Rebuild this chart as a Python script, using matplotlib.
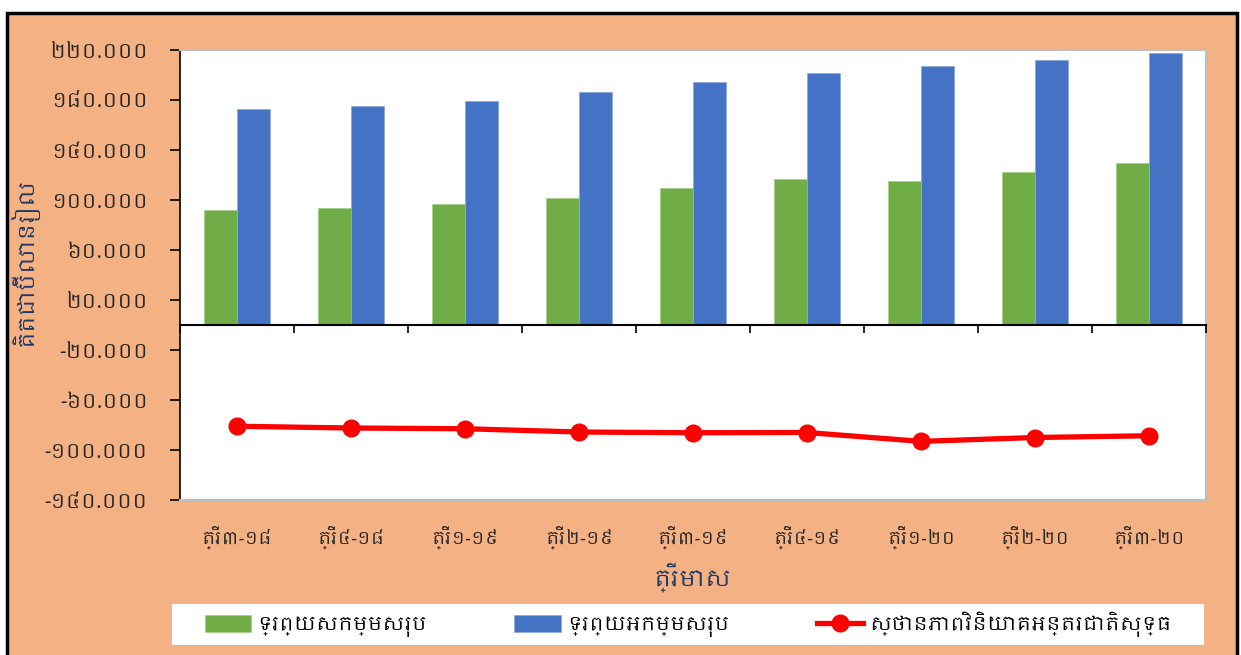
import numpy as np
import matplotlib.pyplot as plt
from matplotlib import font_manager
from matplotlib.ft2font import FT2Font

# look for a font that has Khmer glyphs, prefer one named Khmer
khmer_fonts = []
for f in font_manager.fontManager.ttflist:
    try:
        if 0x1780 in FT2Font(f.fname).get_charmap():
            khmer_fonts.append(f.name)
    except Exception:
        pass
khmer_fonts.sort(key=lambda n: 'Khmer' not in n)
fams = khmer_fonts[:1] + ['DejaVu Sans']
plt.rcParams['font.family'] = fams

quarters = ['ត្រី៣-១៨', 'ត្រី៤-១៨', 'ត្រី១-១៩', 'ត្រី២-១៩', 'ត្រី៣-១៩',
            'ត្រី៤-១៩', 'ត្រី១-២០', 'ត្រី២-២០', 'ត្រី៣-២០']
assets = [92.3, 93.4, 96.9, 102.0, 109.7, 116.7, 115.0, 122.6, 129.8]
liabilities = [172.6, 175.0, 179.0, 186.3, 194.6, 201.5, 207.0, 212.0, 217.6]
niip = [-81.0, -82.4, -83.0, -85.6, -86.2, -86.0, -93.1, -90.0, -88.6]
yticks = [220, 180, 140, 100, 60, 20, -20, -60, -100, -140]
ytick_labels = ['២២០.០០០', '១៨០.០០០', '១៤០.០០០', '១០០.០០០', '៦០.០០០', '២០.០០០',
                '-២០.០០០', '-៦០.០០០', '-១០០.០០០', '-១៤០.០០០']
names = ['ទ្រព្យសកម្មសរុប', 'ទ្រព្យអកម្មសរុប', 'ស្ថានភាពវិនិយោគអន្តរជាតិសុទ្ធ']

orange = '#F4B183'
navy = '#1F3864'

fig = plt.figure(figsize=(12.41, 6.55), dpi=100)
fig.patch.set_facecolor('white')
# orange panel with black frame
fig.patches.append(plt.Rectangle((7 / 1241, -0.01), 1230 / 1241, 1 - 13 / 655 + 0.01,
                                 transform=fig.transFigure, facecolor=orange,
                                 edgecolor='black', linewidth=2.5, zorder=-5))
# white strip behind the legend
fig.patches.append(plt.Rectangle((172 / 1241, 1 - 645 / 655), 1032 / 1241, 41 / 655,
                                 transform=fig.transFigure, facecolor='white',
                                 edgecolor='none', zorder=-4))

ax = fig.add_axes([180 / 1241, 1 - 500 / 655, 1026 / 1241, 450 / 655])
ax.set_facecolor('white')

x = np.arange(len(quarters))
w = 0.29
b1 = ax.bar(x - w / 2, assets, w, color='#70AD47', edgecolor='#A9D18E', linewidth=0.6,
            zorder=2)
b2 = ax.bar(x + w / 2, liabilities, w, color='#4472C4', edgecolor='#8FAADC', linewidth=0.6,
            zorder=2)
ln, = ax.plot(x, niip, color='#FF0000', linewidth=3.8, marker='o', markersize=12,
              zorder=4)

ymin, ymax = -140, 220
ax.set_ylim(ymin, ymax)
ax.set_xlim(-0.5, len(quarters) - 0.5)
ax.set_yticks(yticks)
ax.set_yticklabels(ytick_labels, fontsize=14.5, color='#262626')
ax.set_xticks(x)
ax.set_xticklabels(quarters, fontsize=13, color='#262626')
ax.tick_params(axis='x', length=0, pad=18)
ax.tick_params(axis='y', direction='out', length=7, width=1.2, pad=16)

for s in ['top', 'right', 'bottom']:
    ax.spines[s].set_color('#BFBFBF')
    ax.spines[s].set_linewidth(1.5)
ax.spines['left'].set_color('black')
ax.spines['left'].set_linewidth(1.2)

# category axis drawn through zero with boundary ticks
zero = (0 - ymin) / (ymax - ymin)
sec = ax.secondary_xaxis(zero)
sec.set_xticks(np.arange(len(quarters) + 1) - 0.5)
sec.set_xticklabels([])
sec.tick_params(direction='out', length=6, width=1.2, color='black')
sec.spines['bottom'].set_color('black')
sec.spines['bottom'].set_linewidth(1.5)
sec.set_zorder(3)

ax.set_ylabel('គិតជាប៊ីលានរៀល', fontsize=16, color=navy)
ax.yaxis.set_label_coords(-0.138, 0.53)
ax.set_xlabel('ត្រីមាស', fontsize=16.5, color=navy, labelpad=10)

leg = fig.legend([b1, b2, ln], names, loc='center',
                 bbox_to_anchor=(172 / 1241, 1 - 645 / 655, 1032 / 1241, 41 / 655),
                 ncol=3, fontsize=14, frameon=False, borderaxespad=0,
                 handlelength=2.4, handleheight=1.0, columnspacing=4.5,
                 handletextpad=0.3)

fig.savefig('out.png', dpi=100, facecolor=fig.get_facecolor())
